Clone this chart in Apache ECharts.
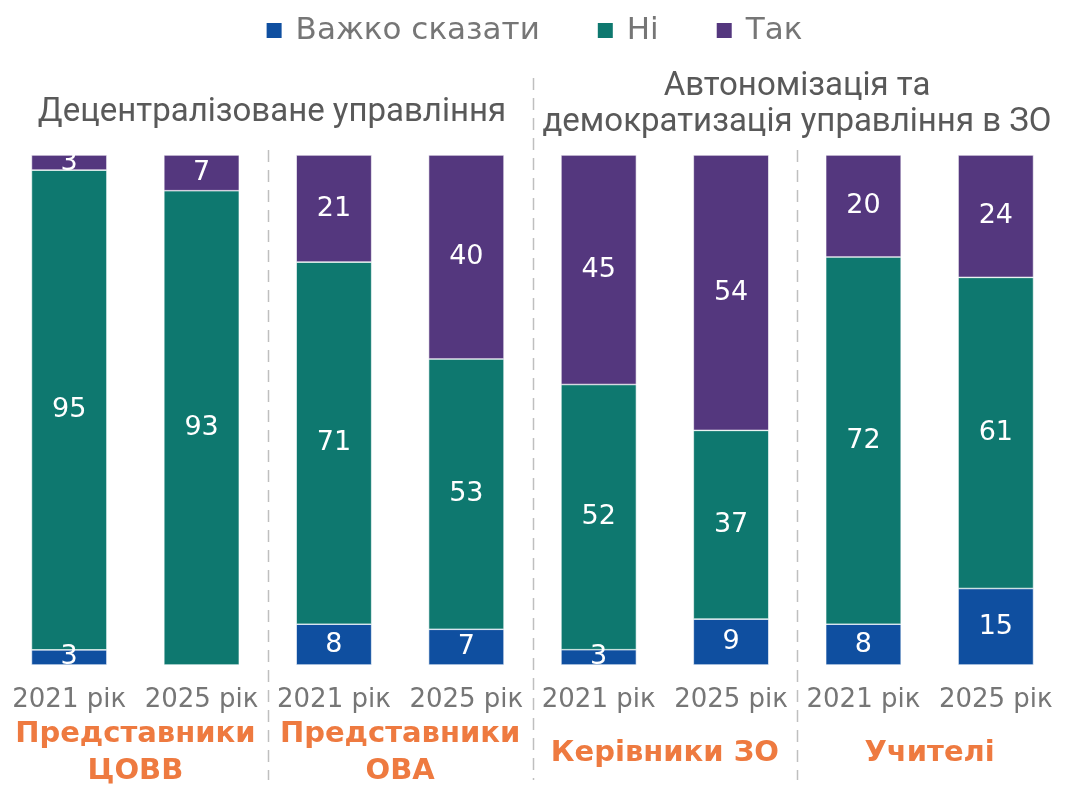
<!DOCTYPE html>
<html>
<head>
<meta charset="utf-8">
<script src="https://cdn.jsdelivr.net/npm/echarts@6/dist/echarts.min.js"></script>
<style>
  html, body { margin: 0; padding: 0; background: #fff; overflow: hidden; }
  #chart { width: 1067px; height: 785px; }
</style>
</head>
<body>
<div id="chart"></div>
<script>
  // values (percent)
  var categories = ['2021 рік', '2025 рік', '2021 рік', '2025 рік', '2021 рік', '2025 рік', '2021 рік', '2025 рік'];
  var groups = ['Представники\nЦОВВ', 'Представники\nОВА', 'Керівники ЗО', 'Учителі'];
  var hardToSay = [3, 0, 8, 7, 3, 9, 8, 15];
  var no = [95, 93, 71, 53, 52, 37, 72, 61];
  var yes = [3, 7, 21, 40, 45, 54, 20, 24];

  var colors = ['#0F4FA0', '#0E786F', '#54377E'];
  var font = '"DejaVu Sans", sans-serif';

  // each bar is drawn as a full column (shares of its own total)
  var totals = categories.map(function (c, i) {
    return hardToSay[i] + no[i] + yes[i];
  });
  function shares(arr) {
    return arr.map(function (v, i) {
      return {value: v / totals[i] * 100, raw: v};
    });
  }

  function makeSeries(name, arr) {
    return {
      name: name,
      type: 'bar',
      stack: 'total',
      barWidth: '57%',
      itemStyle: {borderColor: '#fff', borderWidth: 0.6},
      label: {
        show: true,
        position: 'inside',
        color: '#fff',
        fontFamily: font,
        fontSize: 27,
        formatter: function (p) {
          return p.data.raw ? p.data.raw : '';
        }
      },
      data: shares(arr)
    };
  }

  var chart = echarts.init(document.getElementById('chart'));
  chart.setOption({
    color: colors,
    animation: false,
    legend: {
      top: 10,
      left: 'center',
      itemWidth: 17,
      itemHeight: 17,
      itemGap: 56,
      icon: 'rect',
      textStyle: {color: '#767676', fontFamily: font, fontSize: 31, padding: [0, 0, 0, 8]}
    },
    title: [{
      text: 'Децентралізоване управління',
      left: 267,
      top: 91,
      textAlign: 'center',
      textStyle: {color: '#595959', fontFamily: 'Roboto', fontSize: 33, fontWeight: 'normal'}
    }, {
      text: 'Автономізація та\nдемократизація управління в ЗО',
      left: 792,
      top: 64,
      textAlign: 'center',
      textStyle: {color: '#595959', fontFamily: 'Roboto', fontSize: 33, fontWeight: 'normal', lineHeight: 36}
    }],
    grid: {left: 3, right: 5, top: 155, bottom: 120, outerBoundsMode: 'none', containLabel: false},
    xAxis: [{
      type: 'category',
      data: categories,
      axisLine: {show: false},
      axisTick: {show: false},
      axisLabel: {
        color: '#767676',
        fontFamily: font,
        fontSize: 26,
        margin: 35,
        verticalAlign: 'middle',
        interval: 0
      }
    }, {
      type: 'category',
      data: groups,
      position: 'bottom',
      axisLine: {show: false},
      axisTick: {show: false},
      axisLabel: {
        color: '#EE7A40',
        fontFamily: font,
        fontSize: 29,
        fontWeight: 'bold',
        lineHeight: 37,
        margin: 88,
        verticalAlign: 'middle',
        interval: 0
      }
    }],
    yAxis: {
      type: 'value',
      min: 0,
      max: 100,
      show: false
    },
    series: [
      makeSeries('Важко сказати', hardToSay),
      makeSeries('Ні', no),
      makeSeries('Так', yes)
    ]
  });

  // dashed separators between the groups, placed from the axis
  function mid(i) {
    var a = chart.convertToPixel({xAxisIndex: 0}, i);
    var b = chart.convertToPixel({xAxisIndex: 0}, i + 1);
    return (a + b) / 2;
  }
  var seps = [[1, 150], [3, 78], [5, 150]].map(function (s) {
    var x = Math.round(mid(s[0])) + 0.5;
    return {
      type: 'line',
      shape: {x1: x, y1: s[1], x2: x, y2: 780},
      style: {stroke: '#BFBFBF', lineWidth: 1.5, lineDash: [12, 8]},
      silent: true
    };
  });
  chart.setOption({graphic: seps});
</script>
</body>
</html>
